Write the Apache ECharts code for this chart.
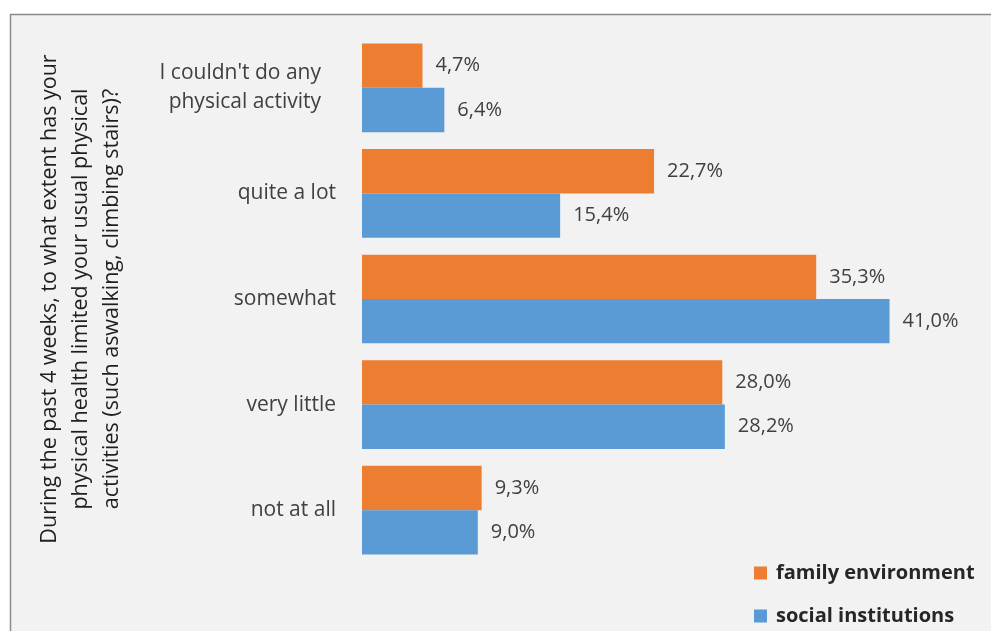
<!DOCTYPE html>
<html>
<head>
<meta charset="utf-8">
<script src="https://cdn.jsdelivr.net/npm/echarts@6/dist/echarts.min.js"></script>
<style>
  html, body { margin: 0; padding: 0; background: #ffffff; }
  #chart { width: 991px; height: 631px; }
</style>
</head>
<body>
<div id="chart"></div>
<script>
// Answer categories, top to bottom
const categories = [
  "I couldn't do any\nphysical activity",
  "quite a lot",
  "somewhat",
  "very little",
  "not at all"
];
// Share of respondents (%) per group
const familyEnvironment = [4.7, 22.7, 35.3, 28.0, 9.3];
const socialInstitutions = [6.4, 15.4, 41.0, 28.2, 9.0];
const seriesNames = ["family environment", "social institutions"];
const questionTitle =
  "During the past 4 weeks, to what extent has your\n" +
  "physical health limited your usual physical\n" +
  "activities (such aswalking, climbing stairs)?";

const FONT = "'Open Sans', sans-serif";
const TEXT = "#404040";

const fmtPct = p => p.value.toFixed(1).replace(".", ",") + "%";

const legendText = {
  fontFamily: FONT, fontSize: 20, fontWeight: "bold", color: "#262626",
  lineHeight: 20, padding: [0, 0, 0, 4]
};
const legendBase = {
  orient: "vertical",
  left: 754,
  itemWidth: 13,
  itemHeight: 13,
  itemGap: 5,
  padding: 0,
  icon: "rect",
  textStyle: legendText
};

const valueLabel = {
  show: true,
  position: "right",
  distance: 13,
  formatter: fmtPct,
  fontFamily: FONT,
  fontSize: 20,
  color: TEXT
};

const chart = echarts.init(document.getElementById("chart"), null, { renderer: "canvas" });

chart.setOption({
  backgroundColor: "#ffffff",
  animation: false,
  textStyle: { fontFamily: FONT },
  graphic: [{
    type: "rect",
    silent: true,
    z: -10,
    shape: { x: 10.5, y: 14.5, width: 1000, height: 640 },
    style: { fill: "#f2f2f2", stroke: "#8a8a8a", lineWidth: 1.5 }
  }],
  grid: {
    left: 362, top: 35, width: 579, height: 528,
    containLabel: false,
    outerBoundsMode: "none"
  },
  legend: [
    Object.assign({}, legendBase, { top: 563, data: [seriesNames[0]] }),
    Object.assign({}, legendBase, { top: 606, data: [seriesNames[1]] })
  ],
  xAxis: {
    type: "value",
    min: 0,
    max: 45,
    show: false
  },
  yAxis: {
    type: "category",
    inverse: true,
    data: categories.map((c, i) => i === 0
      ? { value: c, textStyle: { padding: [0, 15, 0, 0] } }
      : c),
    axisLine: { show: false },
    axisTick: { show: false },
    axisLabel: {
      margin: 26,
      fontFamily: FONT,
      fontSize: 21,
      color: TEXT,
      lineHeight: 29
    },
    name: questionTitle,
    nameLocation: "middle",
    nameRotate: 90,
    nameGap: 235,
    nameMoveOverlap: false,
    nameTextStyle: {
      fontFamily: FONT,
      fontSize: 21.5,
      color: "#1f1f1f",
      lineHeight: 31,
      align: "center"
    }
  },
  series: [
    {
      name: seriesNames[0],
      type: "bar",
      data: familyEnvironment,
      barGap: "0%",
      barCategoryGap: "16%",
      itemStyle: { color: "#ED7D31" },
      label: valueLabel
    },
    {
      name: seriesNames[1],
      type: "bar",
      data: socialInstitutions,
      barGap: "0%",
      barCategoryGap: "16%",
      itemStyle: { color: "#5B9BD5" },
      label: valueLabel
    }
  ]
});
</script>
</body>
</html>
